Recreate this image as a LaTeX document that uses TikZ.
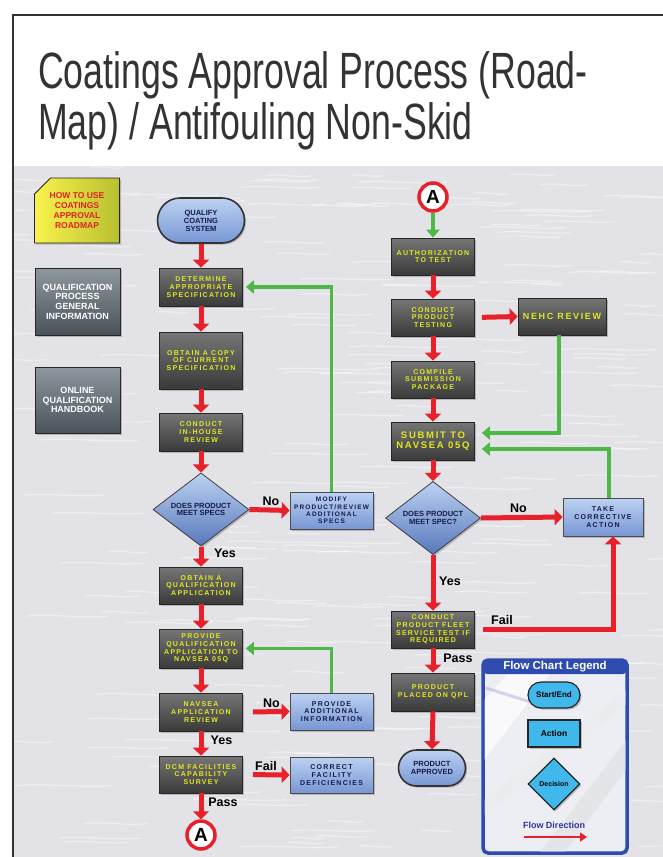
\documentclass[tikz,border=0pt]{standalone}
\usepackage{fontspec}
\setmainfont{Liberation Sans}
\newfontfamily\lsb[LetterSpace=18]{Liberation Sans}
\newfontfamily\titlefnt[FakeStretch=0.70]{Liberation Sans}
\usetikzlibrary{arrows.meta,shapes.misc,shapes.geometric,shadows,calc}
\definecolor{redA}{HTML}{E8202A}
\definecolor{greenA}{HTML}{4DB848}
\definecolor{ytext}{HTML}{E2E81E}
\definecolor{navy}{HTML}{141C48}
\definecolor{bgc}{HTML}{E2E2E7}
\definecolor{legblue}{HTML}{2E4BB0}
\definecolor{legbg}{HTML}{ECEEF4}
\definecolor{cyanL}{HTML}{41B8EC}
\definecolor{actT}{HTML}{767676}
\definecolor{actB}{HTML}{3A3A3A}
\definecolor{bluT}{HTML}{BCD2F2}
\definecolor{bluB}{HTML}{7896D4}
\definecolor{decB}{HTML}{5878BC}
\definecolor{sideT}{HTML}{8E969E}
\definecolor{sideB}{HTML}{4A525A}
\definecolor{howT}{HTML}{F8F24C}
\definecolor{howB}{HTML}{B8C030}
\definecolor{howR}{HTML}{E02020}
\definecolor{fdir}{HTML}{34349C}
\newcommand\actfnt{\lsb\bfseries\fontsize{7}{7.7}\selectfont}
\newcommand\blufnt{\lsb\bfseries\fontsize{7}{7.7}\selectfont}
\newcommand\decfnt{\bfseries\fontsize{7.5}{7.5}\selectfont}
\begin{document}
\begin{tikzpicture}[x=1pt,y=-1pt,
  shad/.style={drop shadow={shadow xshift=1.6pt,shadow yshift=-1.6pt,opacity=0.45}},
  act/.style={rectangle,draw=black!85,line width=0.7pt,top color=actT,bottom color=actB,
    text=ytext,font=\actfnt,align=center,inner sep=0pt,minimum width=83pt,minimum height=37pt,shad},
  blu/.style={rectangle,draw=black!70,line width=0.7pt,top color=bluT,bottom color=bluB,
    text=navy,font=\blufnt,align=center,inner sep=0pt,minimum width=83pt,minimum height=37pt,shad},
  dec/.style={diamond,draw=black!75,line width=0.8pt,top color=bluT,bottom color=decB,
    text=navy,font=\decfnt,align=center,inner sep=0pt,minimum width=96pt,minimum height=65pt,shad},
  term/.style={rounded rectangle,draw=black!80,line width=1.6pt,top color=bluT,bottom color=bluB,
    text=navy,font=\bfseries\fontsize{7.5}{8}\selectfont,align=center,inner sep=0pt,shad},
  side/.style={rectangle,draw=black!85,line width=0.8pt,top color=sideT,bottom color=sideB,
    text=white,font=\bfseries\fontsize{9}{9.6}\selectfont,align=center,inner sep=0pt,
    minimum width=85pt,minimum height=67pt,shad},
  conn/.style={circle,draw=redA,line width=3.5pt,fill=white,minimum size=28pt,inner sep=0pt,
    font=\bfseries\fontsize{19}{19}\selectfont},
  ra/.style={draw=redA,line width=5pt,-{Triangle[length=8pt,width=16pt]}},
  ga/.style={draw=greenA,line width=3.5pt,-{Triangle[length=8pt,width=13pt]}},
  lbl/.style={font=\bfseries\fontsize{12.5}{13}\selectfont,inner sep=0pt},
  legshape/.style={draw=black!85,line width=1.2pt,fill=cyanL,inner sep=0pt,
    font=\bfseries\fontsize{8}{8}\selectfont,shad}
]
\useasboundingbox (0,0) rectangle (663,857);
\fill[white] (0,0) rectangle (663,857);
\fill[bgc] (14,166) rectangle (663,857);
\begin{scope}
\clip (14,166) rectangle (663,857);
\pgfmathsetseed{3}
\foreach \i in {1,...,260}{
  \pgfmathsetmacro\xx{rnd*680-20}
  \pgfmathsetmacro\yy{166+rnd*700}
  \pgfmathsetmacro\ll{30+rnd*70}
  \draw[white,opacity=0.42,line width=1.3pt] (\xx,\yy) .. controls +(\ll/3,-2.5) and +(-\ll/3,2.5) .. +(\ll,0);
}
\end{scope}
\draw[line width=1.8pt,black!80] (663,15) -- (13,15) -- (13,857);
% title
\node[anchor=base west,inner sep=0pt,text=black!80,font=\titlefnt\fontsize{51}{51}\selectfont] (t1) at (38,88) {Coatings Approval Process (Road-};
\node[anchor=base west,inner sep=0pt,text=black!80,font=\titlefnt\fontsize{51}{51}\selectfont] (t2) at (38,139) {Map) / Antifouling Non-Skid};
% sidebar
\node[chamfered rectangle,chamfered rectangle corners=north west,chamfered rectangle xsep=8pt,
  chamfered rectangle ysep=8pt,draw=black!85,line width=0.8pt,left color=howT,right color=howB,
  text=howR,font=\bfseries\fontsize{8.5}{9.8}\selectfont,align=center,inner sep=0pt,
  minimum width=85pt,minimum height=65pt,shad] (how) at (77,210.5) {HOW TO USE\\COATINGS\\APPROVAL\\ROADMAP};
\node[side] (qpgi) at (77.5,301.5) {QUALIFICATION\\PROCESS\\GENERAL\\INFORMATION};
\node[side,minimum height=66pt] (oqh) at (77.5,400) {ONLINE\\QUALIFICATION\\HANDBOOK};
% left column
\node[term,minimum width=87pt,minimum height=45pt] (qcs) at (201,220.5) {QUALIFY\\COATING\\SYSTEM};
\node[act,minimum height=38pt] (das) at (201,287) {DETERMINE\\APPROPRIATE\\SPECIFICATION};
\node[act,minimum height=57pt] (oac) at (201,360.5) {OBTAIN A COPY\\OF CURRENT\\SPECIFICATION};
\node[act,minimum height=38pt] (cihr) at (201,432) {CONDUCT\\IN-HOUSE\\REVIEW};
\node[dec] (dpms) at (201,509.5) {DOES PRODUCT\\MEET SPECS};
\node[blu,font=\lsb\bfseries\fontsize{6.5}{7.2}\selectfont] (mpr) at (331.5,510.5) {MODIFY\\PRODUCT/REVIEW\\ADDITIONAL\\SPECS};
\node[act] (oaqa) at (201,585.5) {OBTAIN A\\QUALIFICATION\\APPLICATION};
\node[act,minimum height=39pt] (pqa) at (201,648.5) {PROVIDE\\QUALIFICATION\\APPLICATION TO\\NAVSEA 05Q};
\node[act,minimum height=38pt] (nar) at (201,712) {NAVSEA\\APPLICATION\\REVIEW};
\node[blu] (pai) at (331.5,711.5) {PROVIDE\\ADDITIONAL\\INFORMATION};
\node[act] (dcm) at (201,774.5) {DCM FACILITIES\\CAPABILITY\\SURVEY};
\node[blu,minimum height=36pt] (cfd) at (331.5,775) {CORRECT\\FACILITY\\DEFICIENCIES};
\node[conn] (A1) at (201,835) {A};
% right column
\node[conn] (A2) at (433,197) {A};
\node[act] (att) at (433,256.5) {AUTHORIZATION\\TO TEST};
\node[act] (cpt) at (433,317.5) {CONDUCT\\PRODUCT\\TESTING};
\node[act,minimum width=88pt,font=\lsb\bfseries\fontsize{9}{10}\selectfont] (nehc) at (562,316.5) {NEHC REVIEW};
\node[act] (csp) at (433,379.5) {COMPILE\\SUBMISSION\\PACKAGE};
\node[act,minimum height=38pt,font=\lsb\bfseries\fontsize{9.5}{10}\selectfont] (snq) at (433,441) {SUBMIT TO\\NAVSEA 05Q};
\node[dec,minimum width=95pt,minimum height=64pt] (dpms2) at (433,518) {DOES PRODUCT\\MEET SPEC?};
\node[blu,minimum width=80pt,minimum height=38pt,font=\lsb\bfseries\fontsize{7}{8}\selectfont] (tca) at (603,517) {TAKE\\CORRECTIVE\\ACTION};
\node[act] (cpf) at (433,629.5) {CONDUCT\\PRODUCT FLEET\\SERVICE TEST IF\\REQUIRED};
\node[act,minimum height=38pt] (ppq) at (433,692) {PRODUCT\\PLACED ON QPL};
\node[term,minimum width=67pt,minimum height=36pt] (pa) at (432,768) {PRODUCT\\APPROVED};
% red arrows left
\draw[ra] (qcs.south) -- (das.north);
\draw[ra] (das.south) -- (oac.north);
\draw[ra] (oac.south) -- (cihr.north);
\draw[ra] (cihr.south) -- (dpms.north);
\draw[ra] (dpms.east) -- (mpr.west);
\draw[ra] (dpms.south) -- (oaqa.north);
\draw[ra] (oaqa.south) -- (pqa.north);
\draw[ra] (pqa.south) -- (nar.north);
\draw[ra,shorten <=10pt] (nar.east) -- (pai.west);
\draw[ra] (nar.south) -- (dcm.north);
\draw[ra,shorten <=10pt] (dcm.east) -- (cfd.west);
\draw[ra] (dcm.south) -- (A1.north);
\draw[ga,shorten >=3pt] (mpr.north) |- (das.east);
\draw[ga,shorten >=3pt] (pai.north) |- (pqa.east);
% right arrows
\draw[ga] (A2.south) -- (att.north);
\draw[ra] (att.south) -- (cpt.north);
\draw[ra,shorten <=7pt] (cpt.east) -- (nehc.west);
\draw[ra] (cpt.south) -- (csp.north);
\draw[ra] (csp.south) -- (snq.north);
\draw[ra] (snq.south) -- (dpms2.north);
\draw[ra] (dpms2.east) -- (tca.west);
\draw[ra] (dpms2.south) -- (cpf.north);
\draw[ra,shorten <=8pt] (cpf.east) -| ($(tca.south)+(10,0)$);
\draw[ra] (cpf.south) -- (ppq.north);
\draw[ra] (ppq.south) -- (pa.north);
\draw[ga] ($(nehc.south)+(-3,0)$) |- ($(snq.east)+(7,-8)$);
\draw[ga] ($(tca.north)+(6,0)$) |- ($(snq.east)+(7,8)$);
% labels
\node[lbl] (l1) at (271,501) {No};
\node[lbl] (l2) at (225,553) {Yes};
\node[lbl] (l3) at (271.5,703) {No};
\node[lbl] (l4) at (221.5,740.5) {Yes};
\node[lbl] (l5) at (266,766.5) {Fail};
\node[lbl] (l6) at (223,802) {Pass};
\node[lbl] (l7) at (518.5,508.5) {No};
\node[lbl] (l8) at (450,581.5) {Yes};
\node[lbl] (l9) at (502,620) {Fail};
\node[lbl] (l10) at (458,658) {Pass};
% legend
\node[rectangle,rounded corners=5pt,draw=legblue,line width=3.5pt,fill=legbg,minimum width=144pt,
  minimum height=193pt,inner sep=0pt,drop shadow={shadow xshift=1.5pt,shadow yshift=-1.5pt,opacity=0.4}] (leg) at (555,756.5) {};
\begin{scope}
\clip[rounded corners=4pt] (484.5,661.5) rectangle (625.5,851.5);
\fill[white,opacity=0.7] (484,700) -- (520,661) -- (560,661) -- (484,760) -- cycle;
\fill[black!12,opacity=0.6] (540,852) -- (626,740) -- (626,770) -- (565,852) -- cycle;
\fill[black!8,opacity=0.6] (484,800) -- (626,690) -- (626,705) -- (484,815) -- cycle;
\draw[fdir!50,opacity=0.4,line width=3pt] (486,688) -- (540,705);
\end{scope}
\node[fill=legblue,rounded corners=3pt,minimum width=142pt,minimum height=14pt,inner sep=0pt,
  text=white,font=\bfseries\fontsize{11.5}{12}\selectfont] (legh) at (555,667) {Flow Chart Legend};
\node[legshape,rounded rectangle,minimum width=52pt,minimum height=26pt] (lse) at (554,695) {Start/End};
\node[legshape,rectangle,minimum width=52pt,minimum height=27pt,font=\bfseries\fontsize{8.5}{8.5}\selectfont] (lac) at (554,733.5) {Action};
\node[legshape,diamond,minimum width=52pt,minimum height=52pt,font=\bfseries\fontsize{7}{7}\selectfont] (lde) at (554,784) {Decision};
\node[text=fdir,font=\bfseries\fontsize{9}{9}\selectfont,inner sep=0pt] (lfd) at (554,825) {Flow Direction};
\coordinate (la1) at (524,837);
\coordinate (la2) at (587,837);
\draw[draw=redA,line width=2.5pt,-{Triangle[length=7pt,width=9pt]}] (la1) -- (la2);
\end{tikzpicture}
\end{document}
